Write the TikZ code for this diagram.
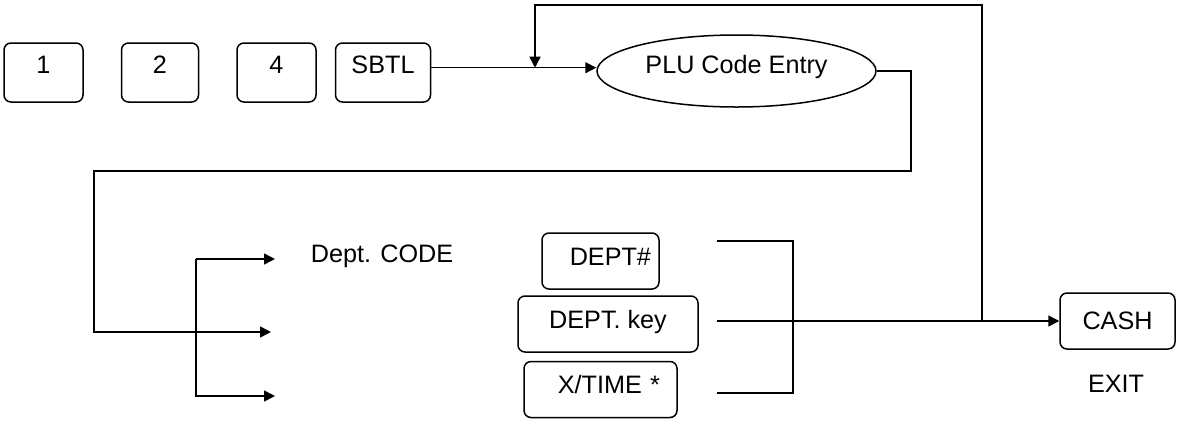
\documentclass[tikz,border=0pt]{standalone}
\usepackage{fontspec}
\setmainfont{Liberation Sans}
\usetikzlibrary{arrows.meta, positioning, shapes.geometric}

\begin{document}
\begin{tikzpicture}[x={(0.5pt,0)}, y={(0,-0.5pt)},
    every node/.style={font=\fontsize{12.6}{15}\selectfont},
    key/.style={rectangle, draw, rounded corners=3.5pt, line width=0.75pt,
                inner ysep=0pt, text height=15pt, text depth=14.5pt},
    dkey/.style={key, text height=16pt, text depth=12pt},
    oval/.style={ellipse, draw, line width=0.75pt, minimum width=139.5pt,
                 minimum height=36pt, text height=10pt, text depth=7.5pt},
    arr/.style={-{Triangle[length=5.5pt, width=5.5pt]}, line width=0.75pt},
    wire/.style={line width=0.75pt},
    note/.style={inner sep=0pt}
  ]
    \useasboundingbox (0,0) rectangle (1177,424);

    % key sequence
    \node[key, minimum width=39.5pt] (k1) at (43.5,72.5) {1};
    \node[key, minimum width=38.5pt, right=18.5pt of k1] (k2) {2};
    \node[key, minimum width=39.5pt, right=18.5pt of k2] (k4) {4};
    \node[key, minimum width=47.5pt, right=9pt of k4] (sbtl) {SBTL};
    \node[oval] (plu) at (736.5,71) {PLU Code Entry};

    % department entry
    \node[note] (code) at (382,256) {Dept. CODE};
    \node[dkey, text width=50.5pt, align=right, inner xsep=4pt] (dnum) at (600.5,261) {DEPT\#};
    \node[dkey, minimum width=90pt] (dkey) at (608,324) {DEPT. key};
    \node[dkey, text width=59.5pt, align=right, inner xsep=8.5pt] (xtime) at (600.5,389.5) {X/TIME *};
    \node[key, minimum width=57.5pt, minimum height=28pt, text height=, text depth=] (cash) at (1117.5,321) {CASH};
    \node[note] (exit) at (1116,384) {EXIT};

    \coordinate (up) at (982,5);
    \coordinate (down) at (535,5);
    \coordinate (r) at (911,171);
    \coordinate (l) at (94,171);
    \coordinate (t2) at (271,332);
    \coordinate (br) at (196,259);
    \coordinate (t1) at (275,259);
    \coordinate (t3) at (275,396);
    \coordinate (b1) at (717,241);
    \coordinate (b3) at (717,393);
    \coordinate (bx) at (793,0);

    \draw[arr] (sbtl.mid east) -- (sbtl.mid east -| plu.west);
    \draw[arr] (up |- cash.west) -- (up) -- (down) -- (down |- sbtl.mid east);
    \draw[arr] (plu.east) -| (r) -- (l) |- (t2);
    \draw[arr] (br) -- (t1);
    \draw[arr] (br) |- (t3);
    \draw[wire] (b1) -| (bx |- b3) -- (b3);
    \draw[line width=1.4pt] (b3) -- ++(18,0);
    \draw[arr] (b1 |- cash.west) -- (cash.west);
\end{tikzpicture}
\end{document}
